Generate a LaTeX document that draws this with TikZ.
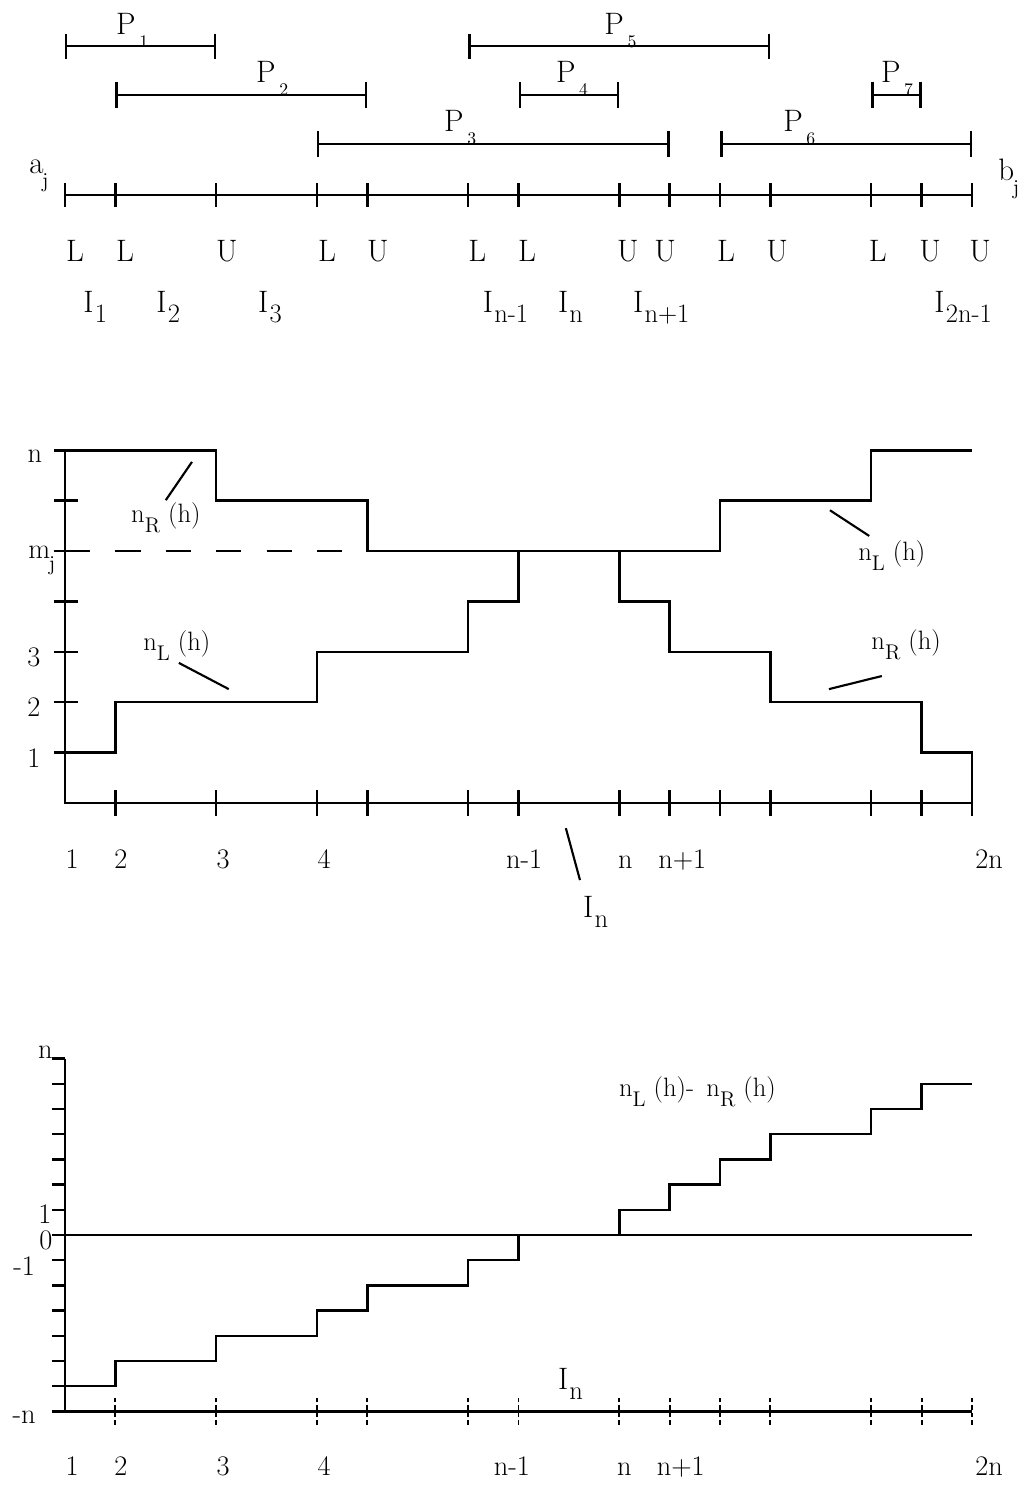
\documentclass[tikz,border=0pt]{standalone}
\usepackage{fontspec}
\usetikzlibrary{arrows.meta}
\newcommand{\psub}[1]{P\kern0.12em\raisebox{-0.42em}{\fontsize{10}{10}\selectfont #1}}
\newcommand{\isub}[1]{I\kern0.04em\raisebox{-0.32em}{\fontsize{15}{15}\selectfont #1}}
\newcommand{\nsub}[1]{n\raisebox{-0.38em}{\fontsize{12}{12}\selectfont #1}}
\newcommand{\jsub}[1]{#1\kern-0.05em\raisebox{-0.45em}{\fontsize{12}{12}\selectfont j}}
\tikzset{
  every picture/.style={line width=1.4pt},
  big/.style={font=\fontsize{17.5}{20}\selectfont, inner sep=0pt},
  num/.style={font=\fontsize{16}{18}\selectfont, inner sep=0pt},
  fn/.style={font=\fontsize{15}{17}\selectfont, inner sep=0pt},
  interval/.style={{Bar[width=5mm]}-{Bar[width=5mm]}},
  leader/.style={line width=1.2pt},
  dtick/.style={line width=1.1pt, dash pattern=on 0.9mm off 0.6mm},
}
\begin{document}
\begin{tikzpicture}
  \useasboundingbox (-1.29,-13.554) rectangle (19.09,15.936);
  % top: intervals P_i over [a_j, b_j]
  \draw (0,12.07) -- (18,12.07);
  \foreach \x in {0,1,3,5,6,8,9,11,12,13,14,16,17,18} \draw (\x,11.83) -- (\x,12.31);
  \draw[interval] (0,15.02) -- (3,15.02);
  \draw[interval] (1,14.05) -- (6,14.05);
  \draw[interval] (5,13.08) -- (12,13.08);
  \draw[interval] (9,14.05) -- (11,14.05);
  \draw[interval] (8,15.02) -- (14,15.02);
  \draw[interval] (13,13.08) -- (18,13.08);
  \draw[interval] (16,14.05) -- (17,14.05);
  \foreach \x/\y/\k in {0.99/15.26/1, 3.77/14.29/2, 7.5/13.32/3, 9.72/14.29/4, 10.68/15.26/5, 14.23/13.32/6, 16.17/14.29/7}
    \node[big, anchor=base west] (p\k) at (\x,\y) {\psub{\k}};
  \node[big, anchor=base west] (aj) at (-0.73,12.5) {\jsub{a}};
  \node[big, anchor=base west] (bj) at (18.5,12.36) {\jsub{b}};
  \foreach \x/\t [count=\i] in {0.2/L, 1.19/L, 3.21/U, 5.2/L, 6.21/U, 8.18/L, 9.17/L, 11.17/U, 11.91/U, 13.12/L, 14.13/U, 16.13/L, 17.17/U, 18.16/U}
    \node[big, anchor=base] (lu\i) at (\x,10.74) {\t};
  \foreach \x/\t [count=\i] in {0.34/1, 1.79/2, 3.81/3, 8.27/n-1, 9.76/n, 11.25/n+1, 17.23/2n-1}
    \node[big, anchor=base west] (iv\i) at (\x,9.74) {\isub{\t}};
  % middle: n_L(h) and n_R(h)
  \draw (0,7) -- (0,0) -- (18,0);
  \foreach \y in {1,...,7} \draw (-0.22,\y) -- (0.26,\y);
  \foreach \x in {1,3,5,6,8,9,11,12,13,14,16,17,18} \draw (\x,-0.25) -- (\x,0.25);
  \draw[dash pattern=on 0.5cm off 0.5cm] (0,5) -- (6,5);
  \draw (0,7) -- (3,7) -- (3,6) -- (6,6) -- (6,5) -- (13,5) -- (13,6) -- (16,6) -- (16,7) -- (18,7);
  \draw (0,1) -- (1,1) -- (1,2) -- (5,2) -- (5,3) -- (8,3) -- (8,4) -- (9,4) -- (9,5);
  \draw (11,5) -- (11,4) -- (12,4) -- (12,3) -- (14,3) -- (14,2) -- (17,2) -- (17,1) -- (18,1) -- (18,0);
  \node[num] (yn) at (-0.6,6.88) {n};
  \node[num, anchor=base west] (ym) at (-0.75,4.86) {\jsub{m}};
  \foreach \y/\t in {2.9/3, 1.91/2, 0.89/1}
    \node[num] (y\t) at (-0.62,\y) {\t};
  \node[fn, anchor=base west] (nr1) at (1.29,5.56) {\nsub{R} (h)};
  \node[fn, anchor=base west] (nl1) at (1.53,3.02) {\nsub{L} (h)};
  \node[fn, anchor=base west] (nl2) at (15.72,4.82) {\nsub{L} (h)};
  \node[fn, anchor=base west] (nr2) at (15.98,3.04) {\nsub{R} (h)};
  \coordinate (r1a) at (2.0,6.01);   \coordinate (r1b) at (2.52,6.77);
  \coordinate (l1a) at (2.26,2.78);  \coordinate (l1b) at (3.25,2.26);
  \coordinate (l2a) at (15.18,5.81); \coordinate (l2b) at (15.96,5.3);
  \coordinate (r2a) at (15.16,2.26); \coordinate (r2b) at (16.21,2.52);
  \draw[leader] (r1a) -- (r1b);
  \draw[leader] (l1a) -- (l1b);
  \draw[leader] (l2a) -- (l2b);
  \draw[leader] (r2a) -- (r2b);
  \foreach \x/\t [count=\i] in {0.14/1, 1.11/2, 3.14/3, 5.14/4, 9.11/n-1, 11.12/n, 12.25/n+1, 18.34/2n}
    \node[num, anchor=base] (xa\i) at (\x,-1.29) {\t};
  \coordinate (ina) at (9.94,-0.5); \coordinate (inb) at (10.22,-1.53);
  \draw[leader] (ina) -- (inb);
  \node[big, anchor=base west] (in1) at (10.26,-2.28) {\isub{n}};
  % bottom: n_L(h) - n_R(h)
  \begin{scope}[yshift=-8.573cm, y=0.5cm]
    \draw (0,7) -- (0,-7) -- (18,-7);
    \foreach \y in {-7,...,7} \draw (-0.26,\y) -- (0,\y);
    \draw (0,0) -- (18,0);
    \foreach \x in {1,3,5,6,8,9,11,12,13,14,16,17,18} \draw[dtick] (\x,-7.54) -- (\x,-6.46);
    \draw (0,-6) -- (1,-6) -- (1,-5) -- (3,-5) -- (3,-4) -- (5,-4) -- (5,-3) -- (6,-3) -- (6,-2) -- (8,-2) -- (8,-1) -- (9,-1) -- (9,0);
    \draw (11,0) -- (11,1) -- (12,1) -- (12,2) -- (13,2) -- (13,3) -- (14,3) -- (14,4) -- (16,4) -- (16,5) -- (17,5) -- (17,6) -- (18,6);
    \node[num, anchor=base east] (zn) at (-0.22,7) {n};
    \node[num] (z1) at (-0.4,0.83) {1};
    \node[num] (z0) at (-0.38,-0.2) {0};
    \node[num] (zm1) at (-0.81,-1.23) {-1};
    \node[num] (zmn) at (-0.81,-7.22) {-n};
    \node[fn, anchor=base west] (diff) at (10.97,5.49) {\nsub{L} (h)-\, \nsub{R} (h)};
    \node[big, anchor=base west] (in2) at (9.76,-6.15) {\isub{n}};
    \foreach \x/\t [count=\i] in {0.14/1, 1.11/2, 3.14/3, 5.14/4, 8.87/n-1, 11.1/n, 12.22/n+1, 18.34/2n}
      \node[num, anchor=base] (xb\i) at (\x,-9.53) {\t};
  \end{scope}
\end{tikzpicture}
\end{document}
